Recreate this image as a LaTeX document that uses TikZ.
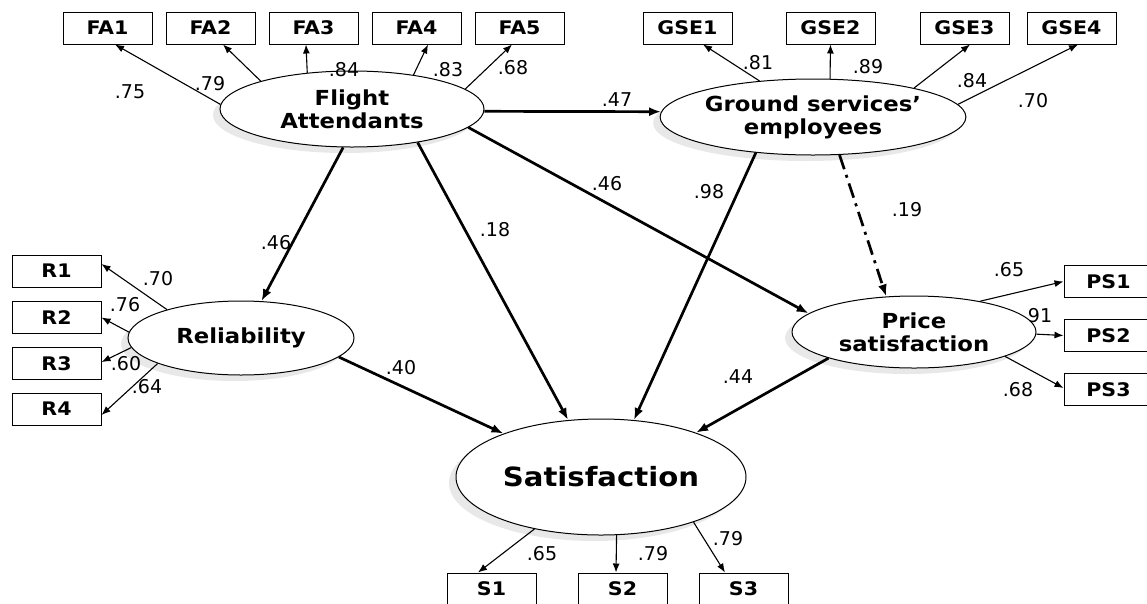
\documentclass[tikz,border=0pt]{standalone}
\usepackage{fontspec}
\setmainfont{DejaVu Sans}
\newfontfamily\lblfont{DejaVu Sans}[FakeStretch=1.1]
\usetikzlibrary{arrows.meta,calc,shadows,shapes.geometric}
\begin{document}
\begin{tikzpicture}[x=1pt,y=-1pt,
  lat/.style={ellipse, draw, line width=1pt, fill=white, inner sep=0pt, align=center,
    font=\lblfont\bfseries\fontsize{20.7}{23}\selectfont,
    drop shadow={shadow xshift=-7pt, shadow yshift=-6pt, fill=black!9, opacity=1}},
  obs/.style={rectangle, draw, line width=1pt, fill=white, minimum width=89pt, minimum height=32pt,
    inner sep=0pt, font=\lblfont\bfseries\fontsize{18.7}{20}\selectfont},
  load/.style={-{Latex[length=9pt,width=7pt]}, line width=1.1pt},
  struct/.style={-{Latex[length=12pt,width=9pt]}, line width=2.7pt},
  lab/.style={font=\fontsize{19}{20}\selectfont, inner sep=0pt}]
\useasboundingbox (0,0) rectangle (1147,603);
\clip (0,0) rectangle (1147,603);

% latent variables
\node[lat, minimum width=264pt, minimum height=76pt] (fa) at (352,109) {Flight\\Attendants};
\node[lat, minimum width=264pt, minimum height=76pt] (gse) at (813,117) {Ground services’\\employees};
\node[lat, minimum width=226pt, minimum height=74pt] (rel) at (241,338) {Reliability};
\node[lat, minimum width=244pt, minimum height=72pt] (ps) at (914,332) {Price\\satisfaction};
\node[lat, minimum width=290pt, minimum height=116pt, font=\lblfont\bfseries\fontsize{26.5}{28}\selectfont] (sat) at (601,477) {Satisfaction};

% observed variables
\node[obs] (fa1) at (107.5,28) {FA1};
\node[obs] (fa2) at (210.5,28) {FA2};
\node[obs] (fa3) at (313.5,28) {FA3};
\node[obs] (fa4) at (416.5,28) {FA4};
\node[obs] (fa5) at (519.5,28) {FA5};
\node[obs] (gse1) at (687.5,28) {GSE1};
\node[obs] (gse2) at (830.5,28) {GSE2};
\node[obs] (gse3) at (964.5,28) {GSE3};
\node[obs] (gse4) at (1071.5,28) {GSE4};
\node[obs] (r1) at (56.5,271) {R1};
\node[obs] (r2) at (56.5,317.5) {R2};
\node[obs] (r3) at (56.5,363.5) {R3};
\node[obs] (r4) at (56.5,409) {R4};
\node[obs] (ps1) at (1108.5,281.5) {PS1};
\node[obs] (ps2) at (1108.5,335.5) {PS2};
\node[obs] (ps3) at (1108.5,389.5) {PS3};
\node[obs] (s1) at (491.5,589) {S1};
\node[obs] (s2) at (622.5,589) {S2};
\node[obs] (s3) at (743.5,589) {S3};

% loadings
\draw[load] (fa.178) -- ($(fa1.south)+(7.5,0)$);
\draw[load] (fa.163) -- ($(fa2.south)+(12.5,0)$);
\draw[load] (fa.141) -- ($(fa3.south)+(-7.5,0)$);
\draw[load] (fa.29) -- ($(fa4.south)+(11.5,0)$);
\draw[load] (fa.10) -- ($(fa5.south)+(-7.5,0)$);
\draw[load] (gse.146) -- ($(gse1.south)+(15.5,0)$);
\draw[load] (gse.66) -- (gse2.south);
\draw[load] (gse.16) -- ($(gse3.south)+(5.5,0)$);
\draw[load] (gse.5) -- ($(gse4.south)+(6.5,0)$);
\draw[load] (rel.159) -- ($(r1.east)+(0,-7)$);
\draw[load] (rel.177) -- (r2.east);
\draw[load] (rel.185) -- ($(r3.east)+(0,-1.5)$);
\draw[load] (rel.197) -- ($(r4.east)+(0,6)$);
\draw[load] (ps.25) -- (ps1.west);
\draw[load] (ps.-1.4) -- (ps2.west);
\draw[load] (ps.-15) -- ($(ps3.west)+(0,-1.5)$);
\draw[load] (sat.-142.5) -- ($(s1.north)+(-13.5,0)$);
\draw[load] (sat.-75.5) -- ($(s2.north)+(-6.5,0)$);
\draw[load] (sat.-26.6) -- ($(s3.north)+(-18.5,0)$);

% structural paths
\draw[struct] (fa.-1.3) -- (gse.178);
\draw[struct] (fa.-103) -- (rel.61.5);
\draw[struct] (fa.-27.2) -- (sat.120);
\draw[struct] (fa.-9.3) -- (ps.170);
\draw[struct] (gse.-148.9) -- (sat.60);
\draw[struct, dash pattern=on 15pt off 6pt on 3pt off 6pt] (gse.-55) -- (ps.128.5);
\draw[struct] (rel.-11.8) -- (sat.156);
\draw[struct] (ps.-163.4) -- (sat.25);

% labels
\node[lab] (l1) at (130,92) {.75};
\node[lab] (l2) at (210,84) {.79};
\node[lab] (l3) at (344,70) {.84};
\node[lab] (l4) at (448,70) {.83};
\node[lab] (l5) at (513,68) {.68};
\node[lab] (l6) at (758,63) {.81};
\node[lab] (l7) at (868,67) {.89};
\node[lab] (l8) at (972,81) {.84};
\node[lab] (l9) at (1033,101) {.70};
\node[lab] (l10) at (617,100) {.47};
\node[lab] (l11) at (276,243) {.46};
\node[lab] (l12) at (607,184) {.46};
\node[lab] (l13) at (495,230) {.18};
\node[lab] (l14) at (709,192) {.98};
\node[lab] (l15) at (907,210) {.19};
\node[lab] (l16) at (401,368) {.40};
\node[lab] (l17) at (738,377) {.44};
\node[lab] (l18) at (158,279) {.70};
\node[lab] (l19) at (125,305) {.76};
\node[lab] (l20) at (126,364) {.60};
\node[lab] (l21) at (147,387) {.64};
\node[lab] (l22) at (1009,270) {.65};
\node[lab] (l23) at (1040,316) {91};
\node[lab] (l24) at (1018,390) {.68};
\node[lab] (l25) at (542,554) {.65};
\node[lab] (l26) at (653,554) {.79};
\node[lab] (l27) at (728,539) {.79};
\end{tikzpicture}
\end{document}
